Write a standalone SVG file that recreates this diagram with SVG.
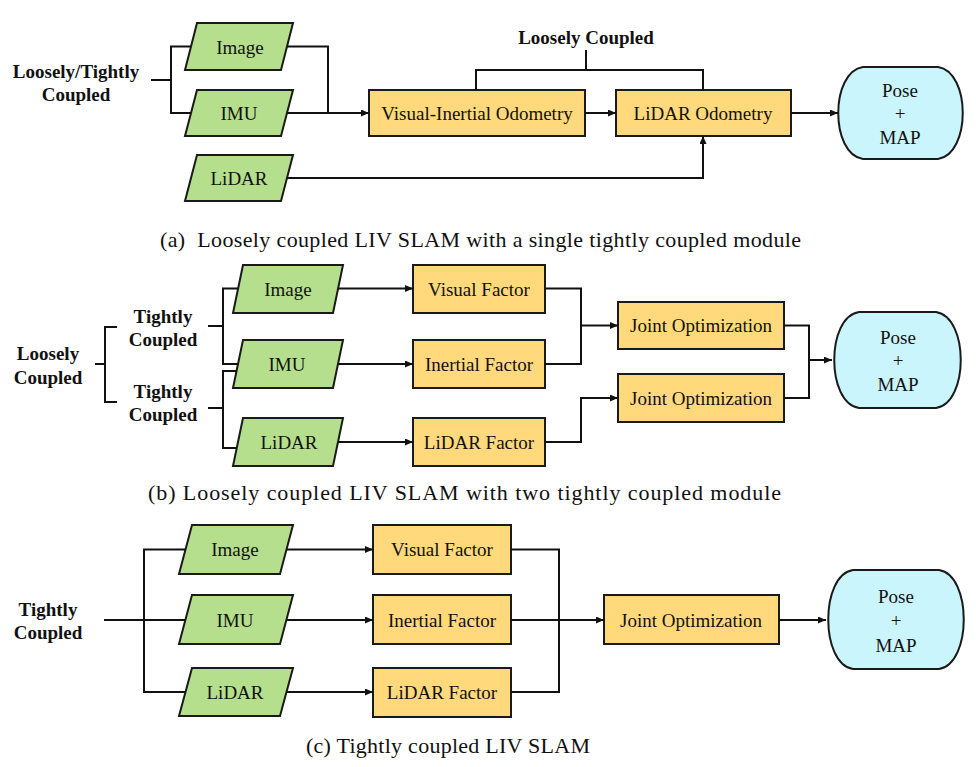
<svg xmlns="http://www.w3.org/2000/svg" width="976" height="767" viewBox="0 0 976 767">
<defs>
<marker id="arr" markerUnits="userSpaceOnUse" markerWidth="9" markerHeight="8" refX="8" refY="3.5" orient="auto">
<path d="M0,0 L8,3.5 L0,7 z" fill="#111"/>
</marker>
<style>
.in{fill:#B5DF8D;stroke:#1a1a1a;stroke-width:2}
.bx{fill:#FFD97C;stroke:#1a1a1a;stroke-width:2}
.out{fill:#CBF5FC;stroke:#1a1a1a;stroke-width:2}
.t{font-family:'Liberation Serif','DejaVu Serif',serif;font-size:19px;fill:#111;text-anchor:middle;dominant-baseline:central}
.b{font-family:'Liberation Serif','DejaVu Serif',serif;font-size:19px;font-weight:bold;fill:#111;text-anchor:middle;dominant-baseline:central}
.cap{font-family:'Liberation Serif','DejaVu Serif',serif;font-size:22px;fill:#111}
.c{fill:none;stroke:#111;stroke-width:2}
.a{fill:none;stroke:#111;stroke-width:2;marker-end:url(#arr)}
</style>
</defs>
<rect width="976" height="767" fill="#fff"/>

<!-- (a) -->
<g id="a-label"><text class="b" x="76" y="71">Loosely/Tightly</text><text class="b" x="76" y="94">Coupled</text></g>
<g id="a-image"><polygon class="in" points="197,23 293,23 281,70 185,70"/><text class="t" x="240" y="47">Image</text></g>
<g id="a-imu"><polygon class="in" points="197,90 293,90 281,136 185,136"/><text class="t" x="239" y="113">IMU</text></g>
<g id="a-lidar"><polygon class="in" points="197,155 293,155 281,201 185,201"/><text class="t" x="239" y="178">LiDAR</text></g>
<g id="a-vio"><rect class="bx" x="369" y="90" width="216" height="46"/><text class="t" x="477" y="113">Visual-Inertial Odometry</text></g>
<g id="a-lo"><rect class="bx" x="616" y="90" width="175" height="46"/><text class="t" x="703" y="113">LiDAR Odometry</text></g>
<g id="a-lc"><text class="b" x="586" y="37">Loosely Coupled</text></g>
<g id="a-pose"><path class="out" d="M863,67 H938 C971,72 971,154 938,159 H863 C830,154 830,72 863,67 Z"/><text class="t" x="900" y="90">Pose</text><text class="t" x="900" y="113">+</text><text class="t" x="900" y="137">MAP</text></g>

<!-- (b) -->
<g id="b-label"><text class="b" x="48" y="353">Loosely</text><text class="b" x="48" y="377">Coupled</text></g>
<g id="b-tc1"><text class="b" x="163" y="316">Tightly</text><text class="b" x="163" y="339">Coupled</text></g>
<g id="b-tc2"><text class="b" x="163" y="391">Tightly</text><text class="b" x="163" y="414">Coupled</text></g>
<g id="b-image"><polygon class="in" points="243,265 343,265 333,313 233,313"/><text class="t" x="288" y="289">Image</text></g>
<g id="b-imu"><polygon class="in" points="243,340 343,340 333,388 233,388"/><text class="t" x="287" y="364">IMU</text></g>
<g id="b-lidar"><polygon class="in" points="243,418 343,418 333,466 233,466"/><text class="t" x="289" y="442">LiDAR</text></g>
<g id="b-vf"><rect class="bx" x="413" y="265" width="132" height="48"/><text class="t" x="479" y="289">Visual Factor</text></g>
<g id="b-if"><rect class="bx" x="413" y="340" width="132" height="48"/><text class="t" x="479" y="364">Inertial Factor</text></g>
<g id="b-lf"><rect class="bx" x="413" y="418" width="132" height="48"/><text class="t" x="479" y="442">LiDAR Factor</text></g>
<g id="b-jo1"><rect class="bx" x="618" y="302" width="166" height="47"/><text class="t" x="701" y="325.5">Joint Optimization</text></g>
<g id="b-jo2"><rect class="bx" x="618" y="374" width="166" height="48"/><text class="t" x="701" y="398">Joint Optimization</text></g>
<g id="b-pose"><path class="out" d="M859,312 H936 C969,317 969,403 936,408 H859 C826,403 826,317 859,312 Z"/><text class="t" x="898" y="337">Pose</text><text class="t" x="898" y="360">+</text><text class="t" x="898" y="384">MAP</text></g>

<!-- (c) -->
<g id="c-label"><text class="b" x="48" y="609">Tightly</text><text class="b" x="48" y="632">Coupled</text></g>
<g id="c-image"><polygon class="in" points="192,525 293,525 280,574 179,574"/><text class="t" x="235" y="549">Image</text></g>
<g id="c-imu"><polygon class="in" points="192,595 293,595 280,644 179,644"/><text class="t" x="235" y="620">IMU</text></g>
<g id="c-lidar"><polygon class="in" points="192,668 293,668 280,716 179,716"/><text class="t" x="235" y="692">LiDAR</text></g>
<g id="c-vf"><rect class="bx" x="373" y="525" width="138" height="49"/><text class="t" x="442" y="549">Visual Factor</text></g>
<g id="c-if"><rect class="bx" x="373" y="595" width="138" height="49"/><text class="t" x="442" y="620">Inertial Factor</text></g>
<g id="c-lf"><rect class="bx" x="373" y="668" width="138" height="49"/><text class="t" x="442" y="692">LiDAR Factor</text></g>
<g id="c-jo"><rect class="bx" x="604" y="595" width="175" height="49"/><text class="t" x="691" y="620">Joint Optimization</text></g>
<g id="c-pose"><path class="out" d="M853,570 H939 C972,575 972,664 939,669 H853 C820,664 820,575 853,570 Z"/><text class="t" x="896" y="596">Pose</text><text class="t" x="896" y="620">+</text><text class="t" x="896" y="645">MAP</text></g>

<g id="connectors">
<path class="c" d="M151,80 H171"/>
<path class="c" d="M191,46.5 H171 V113 H191"/>
<path class="c" d="M287,46.5 H328 V113"/>
<path class="a" d="M287,113 H369"/>
<path class="a" d="M585,113 H616"/>
<path class="a" d="M287,178 H703 V136"/>
<path class="a" d="M791,113 H838"/>
<path class="c" d="M586,50 V70"/>
<path class="c" d="M476,90 V70 H703 V90"/>
<path class="c" d="M95,364 H105"/>
<path class="c" d="M117,327 H105 V402 H117"/>
<path class="c" d="M208,326 H223"/>
<path class="c" d="M238,288.5 H223 V364 H238"/>
<path class="c" d="M208,408 H223"/>
<path class="c" d="M237,371 H223 V448 H237"/>
<path class="a" d="M338,288.5 H413"/>
<path class="a" d="M338,364 H413"/>
<path class="a" d="M338,442 H413"/>
<path class="c" d="M545,288.5 H581 V364 H545"/>
<path class="a" d="M581,325.5 H618"/>
<path class="a" d="M545,442 H581 V398 H618"/>
<path class="c" d="M784,325.5 H809 V398 H784"/>
<path class="a" d="M809,360 H832"/>
<path class="c" d="M104,620 H186"/>
<path class="c" d="M186,549.5 H144 V692 H186"/>
<path class="a" d="M287,549.5 H373"/>
<path class="a" d="M287,620 H373"/>
<path class="a" d="M287,692 H373"/>
<path class="c" d="M511,549.5 H559 V692 H511"/>
<path class="a" d="M511,620 H604"/>
<path class="a" d="M779,620 H826"/>
</g>

<g id="captions">
<text class="cap" x="160" y="247" xml:space="preserve" textLength="641" lengthAdjust="spacing">(a)  Loosely coupled LIV SLAM with a single tightly coupled module</text>
<text class="cap" x="148" y="500" textLength="633" lengthAdjust="spacing">(b) Loosely coupled LIV SLAM with two tightly coupled module</text>
<text class="cap" x="306" y="753" textLength="284" lengthAdjust="spacing">(c) Tightly coupled LIV SLAM</text>
</g>
</svg>
